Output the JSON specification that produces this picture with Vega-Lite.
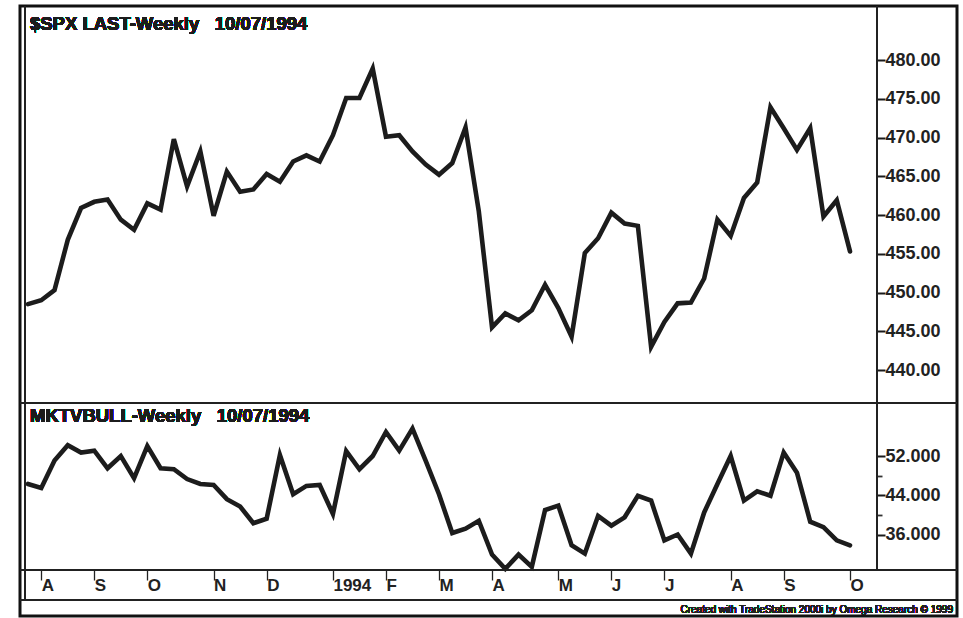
{
  "$schema": "https://vega.github.io/schema/vega-lite/v6.json",
  "width": 937,
  "height": 610,
  "padding": {"left": 20, "top": 6, "right": 6, "bottom": 2},
  "autosize": {"type": "none"},
  "background": "white",
  "config": {
    "view": {"stroke": "#111", "strokeWidth": 3},
    "axis": {"grid": false, "labelFont": "Liberation Sans", "labelFontWeight": "bold", "labelColor": "#222", "ticks": true, "tickColor": "#222", "tickWidth": 1.3, "tickOpacity": 1, "domain": false, "title": null, "zindex": 2}
  },
  "data": {
    "values": [
      {"date": "1993-07-30", "spx": 448.5, "bull": 46.3},
      {"date": "1993-08-06", "spx": 449.0, "bull": 45.5},
      {"date": "1993-08-13", "spx": 450.3, "bull": 51.1},
      {"date": "1993-08-20", "spx": 456.8, "bull": 54.2},
      {"date": "1993-08-27", "spx": 460.9, "bull": 52.7},
      {"date": "1993-09-03", "spx": 461.7, "bull": 53.1},
      {"date": "1993-09-10", "spx": 462.0, "bull": 49.5},
      {"date": "1993-09-17", "spx": 459.4, "bull": 52.0},
      {"date": "1993-09-24", "spx": 458.1, "bull": 47.5},
      {"date": "1993-10-01", "spx": 461.5, "bull": 54.0},
      {"date": "1993-10-08", "spx": 460.7, "bull": 49.5},
      {"date": "1993-10-15", "spx": 469.8, "bull": 49.3},
      {"date": "1993-10-22", "spx": 463.7, "bull": 47.3},
      {"date": "1993-10-29", "spx": 468.2, "bull": 46.3},
      {"date": "1993-11-05", "spx": 459.9, "bull": 46.1},
      {"date": "1993-11-12", "spx": 465.6, "bull": 43.2},
      {"date": "1993-11-19", "spx": 463.0, "bull": 41.7},
      {"date": "1993-11-26", "spx": 463.3, "bull": 38.3},
      {"date": "1993-12-03", "spx": 465.3, "bull": 39.2},
      {"date": "1993-12-10", "spx": 464.3, "bull": 52.2},
      {"date": "1993-12-17", "spx": 466.9, "bull": 44.2},
      {"date": "1993-12-24", "spx": 467.7, "bull": 45.9},
      {"date": "1993-12-31", "spx": 466.9, "bull": 46.1},
      {"date": "1994-01-07", "spx": 470.3, "bull": 40.2},
      {"date": "1994-01-14", "spx": 475.1, "bull": 53.0},
      {"date": "1994-01-21", "spx": 475.1, "bull": 49.3},
      {"date": "1994-01-28", "spx": 478.9, "bull": 52.0},
      {"date": "1994-02-04", "spx": 470.1, "bull": 56.9},
      {"date": "1994-02-11", "spx": 470.3, "bull": 53.1},
      {"date": "1994-02-18", "spx": 468.2, "bull": 57.6},
      {"date": "1994-02-25", "spx": 466.5, "bull": 51.0},
      {"date": "1994-03-04", "spx": 465.2, "bull": 44.2},
      {"date": "1994-03-11", "spx": 466.7, "bull": 36.3},
      {"date": "1994-03-18", "spx": 471.3, "bull": 37.2},
      {"date": "1994-03-25", "spx": 460.5, "bull": 38.8},
      {"date": "1994-04-01", "spx": 445.5, "bull": 31.9},
      {"date": "1994-04-08", "spx": 447.3, "bull": 29.0},
      {"date": "1994-04-15", "spx": 446.4, "bull": 31.9},
      {"date": "1994-04-22", "spx": 447.7, "bull": 29.4},
      {"date": "1994-04-29", "spx": 451.0, "bull": 41.0},
      {"date": "1994-05-06", "spx": 448.0, "bull": 41.9},
      {"date": "1994-05-13", "spx": 444.3, "bull": 33.8},
      {"date": "1994-05-20", "spx": 455.1, "bull": 32.1},
      {"date": "1994-05-27", "spx": 457.0, "bull": 39.8},
      {"date": "1994-06-03", "spx": 460.3, "bull": 37.8},
      {"date": "1994-06-10", "spx": 458.9, "bull": 39.5},
      {"date": "1994-06-17", "spx": 458.6, "bull": 43.9},
      {"date": "1994-06-24", "spx": 443.0, "bull": 42.9},
      {"date": "1994-07-01", "spx": 446.2, "bull": 34.8},
      {"date": "1994-07-08", "spx": 448.6, "bull": 36.0},
      {"date": "1994-07-15", "spx": 448.7, "bull": 32.1},
      {"date": "1994-07-22", "spx": 451.8, "bull": 40.5},
      {"date": "1994-07-29", "spx": 459.4, "bull": 46.3},
      {"date": "1994-08-05", "spx": 457.3, "bull": 52.0},
      {"date": "1994-08-12", "spx": 462.2, "bull": 42.9},
      {"date": "1994-08-19", "spx": 464.2, "bull": 44.8},
      {"date": "1994-08-26", "spx": 473.9, "bull": 43.9},
      {"date": "1994-09-02", "spx": 471.2, "bull": 52.7},
      {"date": "1994-09-09", "spx": 468.4, "bull": 48.6},
      {"date": "1994-09-16", "spx": 471.2, "bull": 38.6},
      {"date": "1994-09-23", "spx": 459.8, "bull": 37.5},
      {"date": "1994-09-30", "spx": 461.9, "bull": 34.8},
      {"date": "1994-10-07", "spx": 455.3, "bull": 33.8}
    ]
  },
  "layer": [
    {
      "mark": {"type": "line", "color": "#1c1c1c", "strokeWidth": 4.6, "strokeJoin": "miter", "strokeCap": "round"},
      "encoding": {
        "x": {"field": "date", "type": "temporal",
          "scale": {"type": "utc", "domain": [{"year": 1993, "month": 7, "date": 30, "utc": true}, {"year": 1994, "month": 10, "date": 7, "utc": true}], "range": [8, 830]},
          "axis": {"orient": "bottom", "offset": -46,
            "values": [
              {"year": 1993, "month": 8, "date": 6, "utc": true},
              {"year": 1993, "month": 9, "date": 3, "utc": true},
              {"year": 1993, "month": 10, "date": 1, "utc": true},
              {"year": 1993, "month": 11, "date": 5, "utc": true},
              {"year": 1993, "month": 12, "date": 3, "utc": true},
              {"year": 1994, "month": 1, "date": 7, "utc": true},
              {"year": 1994, "month": 2, "date": 4, "utc": true},
              {"year": 1994, "month": 3, "date": 4, "utc": true},
              {"year": 1994, "month": 4, "date": 1, "utc": true},
              {"year": 1994, "month": 5, "date": 6, "utc": true},
              {"year": 1994, "month": 6, "date": 3, "utc": true},
              {"year": 1994, "month": 7, "date": 1, "utc": true},
              {"year": 1994, "month": 8, "date": 5, "utc": true},
              {"year": 1994, "month": 9, "date": 2, "utc": true},
              {"year": 1994, "month": 10, "date": 7, "utc": true}
            ],
            "labelExpr": "utcmonth(datum.value) == 0 ? '1994' : ['J','F','M','A','M','J','J','A','S','O','N','D'][utcmonth(datum.value)]",
            "labelAlign": "left", "labelDx": 2, "labelBaseline": "alphabetic", "tickSize": 10, "labelPadding": 10,
            "labelFontSize": 17, "labelFlush": false, "labelOverlap": false}},
        "y": {"field": "spx", "type": "quantitative",
          "scale": {"domain": [440, 480], "range": [364, 54], "nice": false, "zero": false},
          "axis": {"orient": "right", "offset": -80, "values": [440, 445, 450, 455, 460, 465, 470, 475, 480], "format": ".2f", "ticks": true, "tickSize": 8, "tickWidth": 2, "tickColor": "#1a1a1a", "labelPadding": 0, "labelFontSize": 18, "labelAlign": "left", "labelBaseline": "middle"}}
      }
    },
    {
      "mark": {"type": "line", "color": "#1c1c1c", "strokeWidth": 4.6, "strokeJoin": "miter", "strokeCap": "round"},
      "encoding": {
        "x": {"field": "date", "type": "temporal", "axis": null},
        "y": {"field": "bull", "type": "quantitative",
          "scale": {"domain": [36, 52], "range": [528.5, 450], "nice": false, "zero": false},
          "axis": {"orient": "right", "offset": -80, "values": [36, 44, 52], "format": ".3f", "ticks": true, "tickSize": 8, "tickWidth": 2, "tickColor": "#1a1a1a", "labelPadding": 0, "labelFontSize": 18, "labelAlign": "left", "labelBaseline": "middle"}}
      }
    },
    {
      "mark": {"type": "line", "strokeOpacity": 0, "strokeWidth": 0},
      "encoding": {
        "x": {"field": "date", "type": "temporal", "axis": null},
        "y": {"field": "bull", "type": "quantitative",
          "scale": {"domain": [36, 52], "range": [528.5, 450], "nice": false, "zero": false},
          "axis": {"orient": "right", "offset": -80, "values": [32, 40, 48, 56, 60], "labels": false, "ticks": true, "tickSize": 5, "tickWidth": 1.8, "tickColor": "#333"}}
      }
    },
    {
      "mark": {"type": "rule", "color": "#222", "strokeWidth": 1.5},
      "encoding": {"y": {"datum": 435.74, "scale": {"domain": [440, 480], "range": [364, 54], "nice": false, "zero": false}, "axis": null}}
    },
    {
      "mark": {"type": "rule", "color": "#222", "strokeWidth": 1.5},
      "encoding": {
        "x": {"datum": {"year": 1994, "month": 10, "date": 21, "hours": 6, "minutes": 8, "utc": true}, "type": "temporal", "axis": null},
        "y": {"datum": 486.97, "scale": {"domain": [440, 480], "range": [364, 54], "nice": false, "zero": false}, "axis": null},
        "y2": {"datum": 414.19}
      }
    },
    {
      "mark": {"type": "rule", "color": "#222", "strokeWidth": 1.5},
      "encoding": {
        "x": {"datum": {"year": 1993, "month": 7, "date": 28, "hours": 10, "utc": true}, "type": "temporal", "axis": null},
        "y": {"datum": 486.97, "scale": {"domain": [440, 480], "range": [364, 54], "nice": false, "zero": false}, "axis": null},
        "y2": {"datum": 410.32}
      }
    },
    {
      "mark": {"type": "text", "align": "left", "baseline": "alphabetic", "font": "Liberation Sans", "fontWeight": "bold", "fontSize": 18.5, "color": "#1c1c1c"},
      "encoding": {
        "x": {"datum": {"year": 1993, "month": 7, "date": 31, "hours": 1, "utc": true}, "type": "temporal", "axis": null},
        "y": {"datum": 483.87, "scale": {"domain": [440, 480], "range": [364, 54], "nice": false, "zero": false}, "axis": null},
        "text": {"value": "$SPX LAST-Weekly\u00a0\u00a0\u00a010/07/1994"}
      }
    },
    {
      "mark": {"type": "rule", "color": "#222", "strokeWidth": 1.5},
      "encoding": {"y": {"datum": 28.76, "scale": {"domain": [36, 52], "range": [528.5, 450], "nice": false, "zero": false}, "axis": null}}
    },
    {
      "mark": {"type": "rule", "color": "#222", "strokeWidth": 2},
      "encoding": {"y": {"datum": 22.65, "scale": {"domain": [36, 52], "range": [528.5, 450], "nice": false, "zero": false}, "axis": null}}
    },
    {
      "mark": {"type": "text", "align": "left", "baseline": "alphabetic", "font": "Liberation Sans", "fontWeight": "bold", "fontSize": 18.5, "color": "#1c1c1c"},
      "encoding": {
        "x": {"datum": {"year": 1993, "month": 7, "date": 31, "hours": 1, "utc": true}, "type": "temporal", "axis": null},
        "y": {"datum": 58.99, "scale": {"domain": [36, 52], "range": [528.5, 450], "nice": false, "zero": false}, "axis": null},
        "text": {"value": "MKTVBULL-Weekly\u00a0\u00a0\u00a010/07/1994"}
      }
    },
    {
      "mark": {"type": "text", "align": "right", "baseline": "alphabetic", "font": "Liberation Sans", "fontSize": 10, "color": "#222"},
      "encoding": {
        "x": {"datum": {"year": 1994, "month": 11, "date": 30, "hours": 9, "utc": true}, "type": "temporal", "axis": null},
        "y": {"datum": 20.0, "scale": {"domain": [36, 52], "range": [528.5, 450], "nice": false, "zero": false}, "axis": null},
        "text": {"value": "Created with TradeStation 2000i by Omega Research © 1999"}
      }
    }
  ],
  "resolve": {"scale": {"y": "independent"}, "axis": {"x": "independent", "y": "independent"}}
}
